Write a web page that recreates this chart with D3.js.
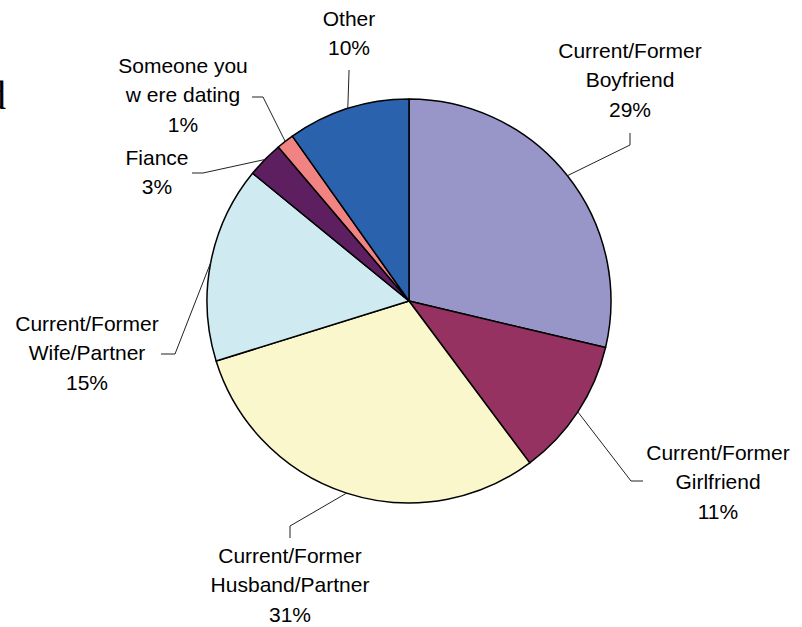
<!DOCTYPE html>
<html>
<head>
<meta charset="utf-8">
<script src="https://cdn.jsdelivr.net/npm/d3@7"></script>
<style>
  body { margin: 0; background: #fff; }
  text { font-family: "Liberation Sans", Arial, sans-serif; fill: #000; }
</style>
</head>
<body>
<div id="chart"></div>
<script>
// slice shares (clockwise from 12 o'clock)
var names = [
  ['Current/Former', 'Boyfriend'],
  ['Current/Former', 'Girlfriend'],
  ['Current/Former', 'Husband/Partner'],
  ['Current/Former', 'Wife/Partner'],
  ['Fiance'],
  ['Someone you', 'w ere dating'],
  ['Other']
];
var values = [28.7, 11.1, 30.4, 15.7, 2.9, 1.4, 9.8];
var pctLabels = ['29%', '11%', '31%', '15%', '3%', '1%', '10%'];
var colors = ['#9896c9', '#953262', '#faf7cd', '#cfebf1', '#5e1f60', '#f28383', '#2a62ad'];

// label placement: text centre x, first line y, leader elbow start and bend
var labelPos = [
  {x: 630, y: 50, a: [630, 133], b: [630, 145]},
  {x: 718, y: 452, a: [643, 481], b: [631, 481]},
  {x: 290, y: 555, a: [290, 538], b: [290, 526]},
  {x: 87, y: 323, a: [161, 354], b: [175, 354]},
  {x: 157, y: 157, a: [192, 173], b: [203, 173]},
  {x: 183, y: 65, a: [252, 97], b: [263, 97]},
  {x: 349, y: 18, a: [349, 70], b: [349, 72]}
];

var W = 802, H = 627;
var cx = 409, cy = 301, r = 202;
var lineH = 29.8;

var svg = d3.select('#chart').append('svg')
  .attr('width', W)
  .attr('height', H);

// cut-off text at the left edge
svg.append('text')
  .attr('x', 6)
  .attr('y', 109)
  .attr('text-anchor', 'end')
  .style('font-family', '"Liberation Serif", "Times New Roman", serif')
  .style('font-size', '40px')
  .text('d');

var pie = d3.pie().sort(null).value(function(d) { return d; });
var arcs = pie(values);
var arc = d3.arc().innerRadius(0).outerRadius(r);

var g = svg.append('g').attr('transform', 'translate(' + cx + ',' + cy + ')');

g.selectAll('path')
  .data(arcs)
  .enter()
  .append('path')
  .attr('d', arc)
  .attr('fill', function(d, i) { return colors[i]; })
  .attr('stroke', '#000')
  .attr('stroke-width', 1.5)
  .attr('stroke-linejoin', 'round');

// leader lines
arcs.forEach(function(d, i) {
  var p = labelPos[i];
  var m = (d.startAngle + d.endAngle) / 2;
  var ex = cx + r * Math.sin(m), ey = cy - r * Math.cos(m);
  svg.append('polyline')
    .attr('points', [p.a, p.b, [ex, ey]].map(function(q) { return q.join(','); }).join(' '))
    .attr('fill', 'none')
    .attr('stroke', '#222')
    .attr('stroke-width', 1);
});

// labels
names.forEach(function(lines, i) {
  var p = labelPos[i];
  var t = svg.append('text')
    .attr('text-anchor', 'middle')
    .style('font-size', '21px');
  lines.concat([pctLabels[i]]).forEach(function(s, k) {
    t.append('tspan')
      .attr('x', p.x)
      .attr('y', p.y + k * lineH)
      .attr('dy', '0.36em')
      .text(s);
  });
});
</script>
</body>
</html>
